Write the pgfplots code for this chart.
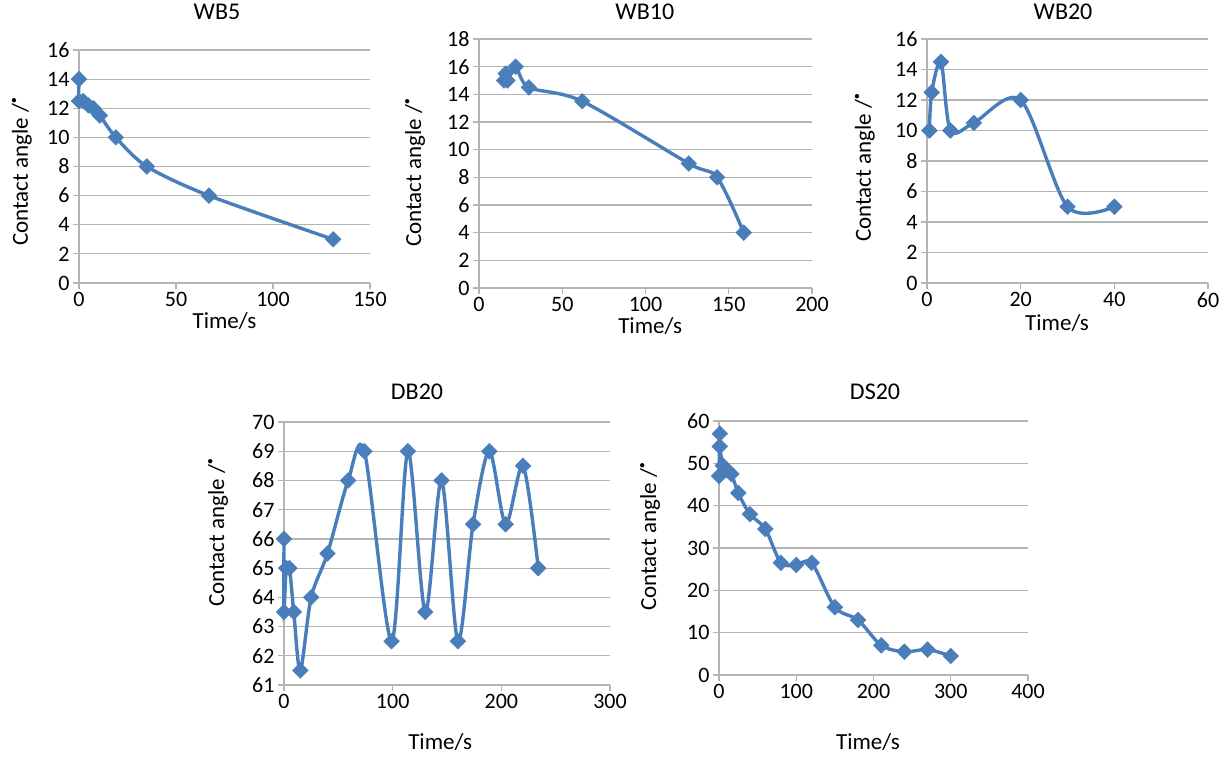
\documentclass[border=0pt]{standalone}
\usepackage{fontspec}
\setmainfont{Carlito}
\usepackage{pgfplots}
\pgfplotsset{compat=1.18}
\definecolor{exblue}{HTML}{4A7EBB}
\definecolor{exgrid}{HTML}{B4B4B4}
\newcommand{\degdot}{\raisebox{1.0ex}{\scalebox{0.45}{$\bullet$}}}
\pgfplotsset{
  panel/.style={
    scale only axis,
    axis x line*=bottom, axis y line*=left,
    tick align=outside, major tick length=6pt,
    ymajorgrids,
    grid style={exgrid, line width=1.2pt},
    axis line style={exgrid, line width=1.2pt},
    major tick style={exgrid, line width=1.2pt},
    tick label style={font=\fontsize{22}{25}\selectfont},
    label style={font=\fontsize{23}{26}\selectfont},
    title style={font=\fontsize{24}{27}\selectfont, anchor=center},
    /pgf/number format/assume math mode=true,
    xlabel={Time/s},
    ylabel={Contact angle /\degdot},
    clip=false,
  },
  ser/.style={exblue, line width=3.4pt, smooth, tension=0.5,
    mark=square*, mark size=5.6pt,
    mark options={fill=exblue, draw=exblue, line width=0.4pt, rotate=45}},
}
\begin{document}
\begin{tikzpicture}
\useasboundingbox (0,0) rectangle (1226pt,-756pt);

% WB5
\begin{axis}[panel, at={(79pt,-283pt)}, anchor=south west,
  width=291pt, height=233pt,
  xmin=0, xmax=150, ymin=0, ymax=16,
  xtick={0,50,100,150}, ytick={0,2,...,16},
  title={WB5}, title style={at={(axis description cs:0.474,1.137)}},
  xlabel style={at={(axis description cs:0.5,-0.163)}, anchor=center},
  ylabel style={at={(axis description cs:-0.196,0.476)}, anchor=center}]
\addplot [ser] coordinates {
(0,14) (0,12.5) (2.2,12.5) (4.8,12.2) (7.4,12) (10.8,11.5)
(19,10) (35,8) (67,6) (131,3)};
\end{axis}

% WB10
\begin{axis}[panel, at={(479pt,-288pt)}, anchor=south west,
  width=333pt, height=249pt,
  xmin=0, xmax=200, ymin=0, ymax=18,
  xtick={0,50,100,150,200}, ytick={0,2,...,18},
  title={WB10}, title style={at={(axis description cs:0.498,1.084)}},
  xlabel style={at={(axis description cs:0.514,-0.153)}, anchor=center},
  ylabel style={at={(axis description cs:-0.192,0.462)}, anchor=center}]
\addplot [ser] coordinates {
(15,15) (16,15.5) (17,15) (22,16) (30,14.5) (62,13.5)
(126,9) (143,8) (159,4)};
\end{axis}

% WB20
\begin{axis}[panel, at={(927pt,-283pt)}, anchor=south west,
  width=281pt, height=244pt,
  xmin=0, xmax=60, ymin=0, ymax=16,
  xtick={0,20,40,60}, ytick={0,2,...,16},
  title={WB20}, title style={at={(axis description cs:0.484,1.086)}},
  xlabel style={at={(axis description cs:0.463,-0.164)}, anchor=center},
  ylabel style={at={(axis description cs:-0.221,0.471)}, anchor=center}]
\addplot [ser] coordinates {
(0.5,10) (1,12.5) (3,14.5) (5,10) (10,10.5) (20,12) (30,5) (40,5)};
\end{axis}

% DB20
\begin{axis}[panel, at={(284pt,-685pt)}, anchor=south west,
  width=326pt, height=263pt,
  xmin=0, xmax=300, ymin=61, ymax=70,
  xtick={0,100,200,300}, ytick={61,62,...,70},
  title={DB20}, title style={at={(axis description cs:0.408,1.091)}},
  xlabel style={at={(axis description cs:0.479,-0.217)}, anchor=center},
  ylabel style={at={(axis description cs:-0.202,0.578)}, anchor=center}]
\addplot [ser] coordinates {
(0,66) (0,63.5) (2,65) (5,65) (9,63.5) (15,61.5) (25,64) (40,65.5)
(59,68) (74,69) (99,62.5) (114,69) (130,63.5) (145,68) (160,62.5)
(174,66.5) (189,69) (204,66.5) (220,68.5) (234,65)};
\end{axis}

% DS20
\begin{axis}[panel, at={(719pt,-675pt)}, anchor=south west,
  width=309pt, height=254pt,
  xmin=0, xmax=400, ymin=0, ymax=60,
  xtick={0,100,200,300,400}, ytick={0,10,...,60},
  title={DS20}, title style={at={(axis description cs:0.505,1.091)}},
  xlabel style={at={(axis description cs:0.482,-0.264)}, anchor=center},
  ylabel style={at={(axis description cs:-0.223,0.543)}, anchor=center}]
\addplot [ser] coordinates {
(0,47) (1,57) (1,54) (5,49.5) (10,48.5) (16,47.5) (25,43) (40,38)
(60,34.5) (80,26.5) (100,26) (120,26.5) (150,16) (180,13) (210,7)
(240,5.5) (270,6) (300,4.5)};
\end{axis}
\end{tikzpicture}
\end{document}
